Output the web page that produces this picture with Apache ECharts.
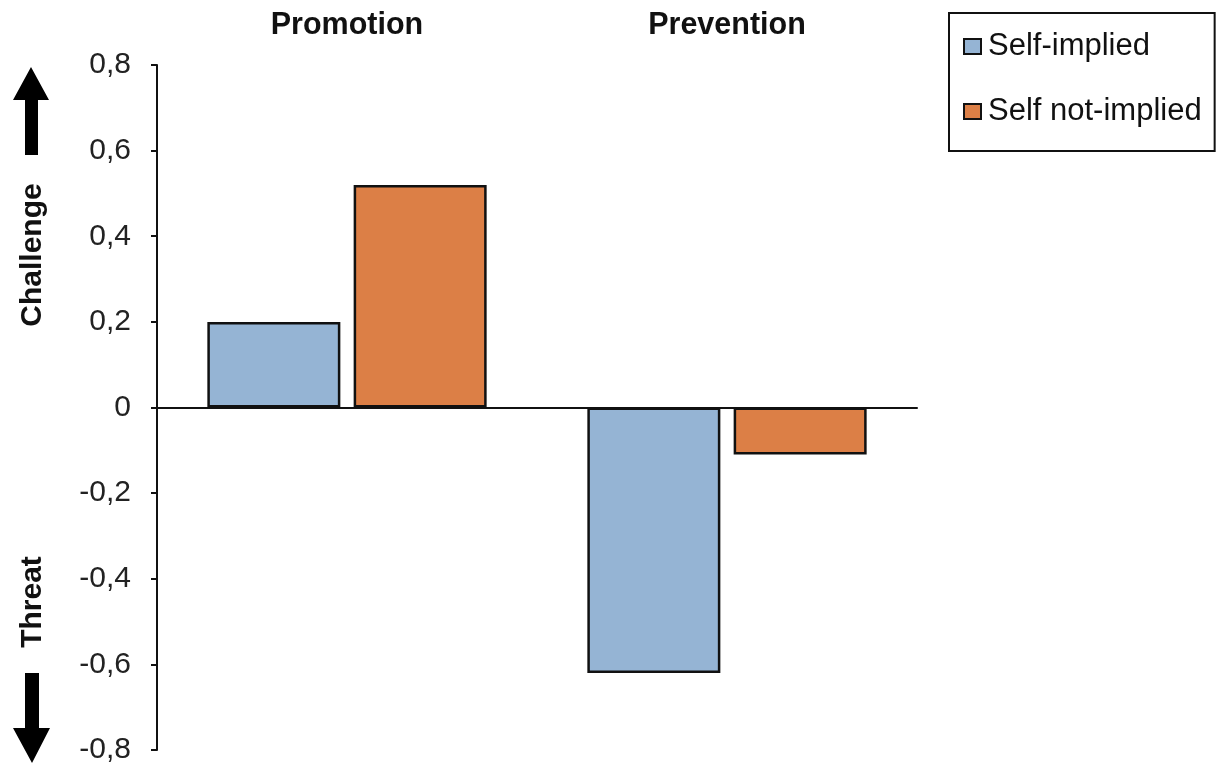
<!DOCTYPE html>
<html>
<head>
<meta charset="utf-8">
<style>
  html, body { margin: 0; padding: 0; background: #fff; }
  #chart { width: 1221px; height: 766px; }
</style>
<script src="https://cdn.jsdelivr.net/npm/echarts@6/dist/echarts.min.js"></script>
</head>
<body>
<div id="chart"></div>
<script>
// Regulatory focus conditions and appraisal scores (positive = challenge, negative = threat)
const categories = ['Promotion', 'Prevention'];
const selfImplied = [0.2, -0.62];
const selfNotImplied = [0.52, -0.11];
const seriesNames = ['Self-implied', 'Self not-implied'];
const yMin = -0.8, yMax = 0.8, yStep = 0.2;

const FONT = '"Liberation Sans", Arial, sans-serif';
const BLUE = '#95b4d4';
const ORANGE = '#dc7f46';

const chart = echarts.init(document.getElementById('chart'), null, { renderer: 'canvas' });

const barStyle = (color) => ({ color: color, borderColor: '#111', borderWidth: 2.5 });

chart.setOption({
  backgroundColor: '#ffffff',
  animation: false,
  textStyle: { fontFamily: FONT },
  grid: { left: 157, top: 65, width: 760, height: 685 },
  legend: {
    orient: 'vertical',
    left: 949,
    top: 13,
    padding: [18, 13, 24, 14],
    itemGap: 34,
    itemWidth: 17,
    itemHeight: 15,
    borderColor: '#111',
    borderWidth: 2,
    icon: 'rect',
    textStyle: { fontFamily: FONT, fontSize: 31, color: '#111', padding: [0, 0, 0, 2] },
    data: seriesNames
  },
  xAxis: [
    {
      type: 'category',
      data: categories,
      axisLine: { onZero: true, lineStyle: { color: '#111', width: 2 } },
      axisTick: { show: false },
      axisLabel: { show: false }
    },
    {
      type: 'category',
      data: categories,
      position: 'top',
      axisLine: { show: false },
      axisTick: { show: false },
      axisLabel: { fontFamily: FONT, fontSize: 30.5, fontWeight: 'bold', color: '#111', margin: 24 }
    }
  ],
  yAxis: {
    type: 'value',
    min: yMin,
    max: yMax,
    interval: yStep,
    splitLine: { show: false },
    axisLine: { show: true, lineStyle: { color: '#111', width: 2 } },
    axisTick: { show: true, length: 6, lineStyle: { color: '#111', width: 2 } },
    axisLabel: {
      fontFamily: FONT,
      fontSize: 30,
      color: '#222',
      margin: 26,
      formatter: (v) => (Math.abs(v) < 1e-9 ? '0' : v.toFixed(1).replace('.', ','))
    }
  },
  series: [
    {
      name: seriesNames[0],
      type: 'bar',
      xAxisIndex: 0,
      data: selfImplied,
      barWidth: '35%',
      barGap: '10%',
      itemStyle: barStyle(BLUE)
    },
    {
      name: seriesNames[1],
      type: 'bar',
      xAxisIndex: 0,
      data: selfNotImplied,
      barWidth: '35%',
      barGap: '10%',
      itemStyle: barStyle(ORANGE)
    }
  ],
  graphic: [
    // upward arrow beside "Challenge"
    {
      type: 'polygon',
      shape: { points: [[31, 67], [49, 100], [38, 100], [38, 155], [25, 155], [25, 100], [13, 100]] },
      style: { fill: '#000' }
    },
    {
      type: 'text',
      x: 33, y: 255,
      rotation: Math.PI / 2,
      style: {
        text: 'Challenge', font: 'bold 30px ' + FONT, fill: '#111',
        align: 'center', verticalAlign: 'middle'
      }
    },
    {
      type: 'text',
      x: 33, y: 602,
      rotation: Math.PI / 2,
      style: {
        text: 'Threat', font: 'bold 30px ' + FONT, fill: '#111',
        align: 'center', verticalAlign: 'middle'
      }
    },
    // downward arrow beside "Threat"
    {
      type: 'polygon',
      shape: { points: [[25, 673], [39, 673], [39, 728], [50, 728], [32, 763], [13, 728], [25, 728]] },
      style: { fill: '#000' }
    }
  ]
});
</script>
</body>
</html>
